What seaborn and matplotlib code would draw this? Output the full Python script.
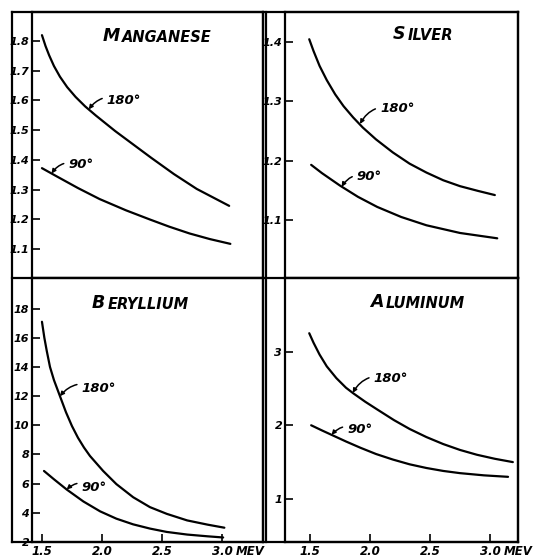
import matplotlib
matplotlib.use("Agg")
import matplotlib.pyplot as plt
from matplotlib.lines import Line2D
import seaborn as sns

sns.set_style("white")
plt.rcParams["font.family"] = ["DejaVu Sans"]

W, H = 536, 558

# Gamma energy (MeV) and ratio readings for each element, 180 deg and 90 deg
mn_e_180 = [1.50, 1.53, 1.56, 1.60, 1.65, 1.71, 1.78, 1.86, 1.95, 2.11, 2.26, 2.41, 2.60, 2.79, 3.06]
mn_v_180 = [1.820, 1.783, 1.752, 1.716, 1.680, 1.645, 1.612, 1.580, 1.549, 1.497, 1.452, 1.407, 1.352, 1.302, 1.245]
mn_e_90 = [1.50, 1.62, 1.80, 1.98, 2.20, 2.40, 2.56, 2.73, 2.90, 3.07]
mn_v_90 = [1.372, 1.345, 1.305, 1.268, 1.230, 1.199, 1.175, 1.152, 1.133, 1.117]

ag_e_180 = [1.494, 1.53, 1.58, 1.64, 1.71, 1.78, 1.86, 1.94, 2.05, 2.19, 2.33, 2.47, 2.61, 2.75, 2.90, 3.04]
ag_v_180 = [1.405, 1.385, 1.360, 1.336, 1.312, 1.292, 1.273, 1.256, 1.236, 1.214, 1.195, 1.180, 1.167, 1.157, 1.149, 1.142]
ag_e_90 = [1.51, 1.60, 1.75, 1.90, 2.06, 2.26, 2.47, 2.75, 3.06]
ag_v_90 = [1.193, 1.179, 1.158, 1.139, 1.122, 1.105, 1.091, 1.078, 1.069]

be_e_180 = [1.50, 1.52, 1.54, 1.567, 1.60, 1.65, 1.70, 1.75, 1.80, 1.85, 1.90, 2.01, 2.12, 2.26, 2.40, 2.54, 2.71, 2.88, 3.02]
be_v_180 = [17.1, 16.0, 15.1, 14.0, 13.1, 12.0, 10.9, 9.95, 9.15, 8.48, 7.90, 6.87, 5.97, 5.07, 4.39, 3.93, 3.48, 3.19, 2.98]
be_e_90 = [1.517, 1.60, 1.706, 1.845, 1.985, 2.12, 2.26, 2.40, 2.54, 2.71, 2.88, 3.01]
be_v_90 = [6.87, 6.30, 5.60, 4.78, 4.10, 3.60, 3.21, 2.92, 2.69, 2.51, 2.39, 2.31]

al_e_180 = [1.494, 1.53, 1.58, 1.64, 1.72, 1.80, 1.86, 1.96, 2.06, 2.20, 2.33, 2.47, 2.61, 2.75, 2.89, 3.04, 3.19]
al_v_180 = [3.25, 3.12, 2.96, 2.80, 2.64, 2.51, 2.435, 2.32, 2.215, 2.07, 1.95, 1.84, 1.745, 1.665, 1.60, 1.545, 1.50]
al_e_90 = [1.51, 1.60, 1.68, 1.80, 1.92, 2.05, 2.19, 2.33, 2.47, 2.61, 2.75, 2.95, 3.15]
al_v_90 = [2.00, 1.93, 1.87, 1.78, 1.695, 1.61, 1.535, 1.47, 1.42, 1.38, 1.35, 1.32, 1.30]

mn_ticks = [1.1, 1.2, 1.3, 1.4, 1.5, 1.6, 1.7, 1.8]
ag_ticks = [1.1, 1.2, 1.3, 1.4]
be_ticks = [2, 4, 6, 8, 10, 12, 14, 16, 18]
al_ticks = [1, 2, 3]
e_ticks = [1.5, 2.0, 2.5, 3.0]
e_tick_labels = ["1.5", "2.0", "2.5", "3.0"]

FONT = dict(style="italic", weight="bold", color="black")

fig = plt.figure(figsize=(W / 100, H / 100), dpi=100)


def rect(x0, y0, x1, y1):
    return [x0 / W, 1 - y1 / H, (x1 - x0) / W, (y1 - y0) / H]


def make_axes(box, xlim, ylim, yticks, ylabels, bottom):
    ax = fig.add_axes(rect(*box))
    ax.set_xlim(*xlim)
    ax.set_ylim(*ylim)
    for s in ax.spines.values():
        s.set_linewidth(1.6)
        s.set_color("black")
    ax.set_yticks(yticks)
    ax.set_yticklabels(ylabels, fontsize=8, **FONT)
    ax.tick_params(axis="y", direction="in", length=6, width=1.4, pad=2,
                   left=True, right=False)
    if bottom:
        ax.set_xticks(e_ticks)
        ax.set_xticklabels(e_tick_labels, fontsize=8.5, **FONT)
        ax.tick_params(axis="x", direction="in", length=6, width=1.4, pad=2,
                       bottom=True, top=False)
        ax.annotate("MEV", xy=(3.0, 0), xycoords=("data", "axes fraction"),
                    xytext=(10, -2), textcoords="offset points",
                    ha="left", va="top", fontsize=8.5, **FONT)
    else:
        ax.set_xticks([])
    ax.set_xlabel("")
    ax.set_ylabel("")
    return ax


def curve(ax, e, v):
    sns.lineplot(x=e, y=v, ax=ax, color="black", linewidth=1.6, sort=False)


def angle_label(ax, text, xy, xytext, rad):
    ax.annotate(text, xy=xy, xytext=xytext, ha="left", va="center",
                fontsize=9.5, **FONT,
                arrowprops=dict(arrowstyle="-|>", mutation_scale=6, lw=1.1,
                                color="black", shrinkA=1, shrinkB=0,
                                connectionstyle=f"arc3,rad={rad}"))


def title(x_px, y_px, first, rest):
    t1 = fig.text(x_px / W, 1 - y_px / H, first, fontsize=12.5,
                  ha="left", va="bottom", **FONT)
    plt.annotate(rest, xy=(1, 0), xycoords=t1, xytext=(1.5, 0),
                 textcoords="offset points", ha="left", va="bottom",
                 fontsize=10.5, **FONT, annotation_clip=False)


def fmt(ticks, nd):
    return [f"{t:.{nd}f}" for t in ticks]


# Manganese
ax_mn = make_axes((32, 12, 263, 278), (1.417, 3.342), (1.002, 1.898),
                  mn_ticks, fmt(mn_ticks, 1), False)
curve(ax_mn, mn_e_180, mn_v_180)
curve(ax_mn, mn_e_90, mn_v_90)
angle_label(ax_mn, "180°", (1.89, 1.570), (2.04, 1.601), 0.4)
angle_label(ax_mn, "90°", (1.58, 1.354), (1.72, 1.383), 0.4)

# Silver
ax_ag = make_axes((285, 12, 518, 278), (1.292, 3.233), (1.002, 1.451),
                  ag_ticks, fmt(ag_ticks, 1), False)
curve(ax_ag, ag_e_180, ag_v_180)
curve(ax_ag, ag_e_90, ag_v_90)
angle_label(ax_ag, "180°", (1.917, 1.262), (2.083, 1.288), 0.4)
angle_label(ax_ag, "90°", (1.764, 1.156), (1.89, 1.173), 0.4)

# Beryllium
ax_be = make_axes((32, 278, 263, 542), (1.417, 3.342), (2.0, 20.1),
                  be_ticks, [str(t) for t in be_ticks], True)
curve(ax_be, be_e_180, be_v_180)
curve(ax_be, be_e_90, be_v_90)
angle_label(ax_be, "180°", (1.65, 12.0), (1.83, 12.55), 0.4)
angle_label(ax_be, "90°", (1.706, 5.60), (1.83, 5.74), 0.4)

# Aluminum
ax_al = make_axes((285, 278, 518, 542), (1.292, 3.233), (0.415, 4.0),
                  al_ticks, [str(t) for t in al_ticks], True)
curve(ax_al, al_e_180, al_v_180)
curve(ax_al, al_e_90, al_v_90)
angle_label(ax_al, "180°", (1.856, 2.44), (2.03, 2.64), 0.4)
angle_label(ax_al, "90°", (1.68, 1.87), (1.81, 1.94), 0.4)

title(103, 45, "M", "ANGANESE")
title(393, 43, "S", "ILVER")
title(92, 312, "B", "ERYLLIUM")
title(370, 311, "A", "LUMINUM")

# Outer frame, panel divider and label margins
def fline(x0, y0, x1, y1, lw=1.6):
    fig.add_artist(Line2D([x0 / W, x1 / W], [1 - y0 / H, 1 - y1 / H],
                          transform=fig.transFigure, color="black", lw=lw,
                          solid_capstyle="projecting"))


fline(12, 12, 518, 12)
fline(12, 278, 518, 278)
fline(12, 542, 518, 542)
fline(12, 12, 12, 542)
fline(266, 12, 266, 542)
fline(263, 12, 263, 542)
fline(518, 12, 518, 542)

fig.savefig("out.png", dpi=100, facecolor="white")
